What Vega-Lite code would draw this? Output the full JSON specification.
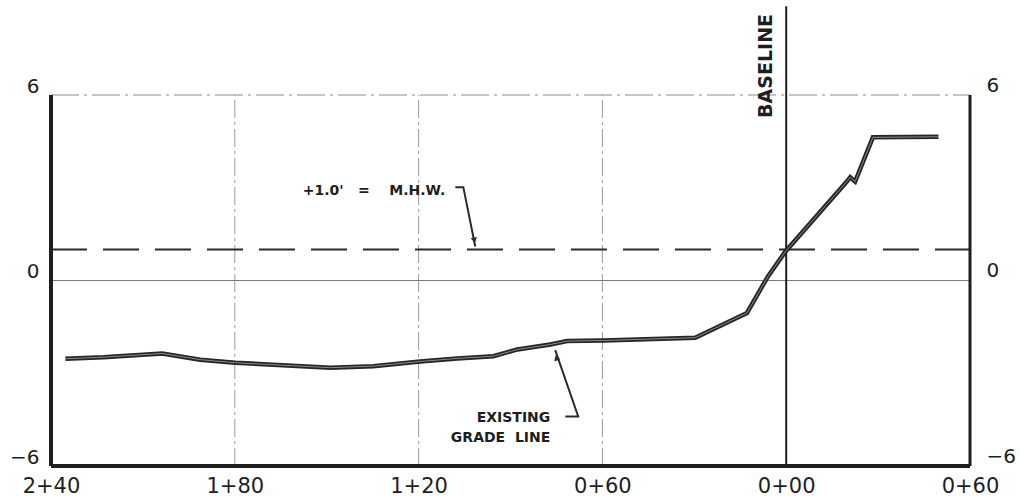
{
  "$schema": "https://vega.github.io/schema/vega-lite/v6.json",
  "width": 919,
  "height": 371,
  "autosize": {"type": "none"},
  "padding": {"left": 51, "top": 95, "right": 50, "bottom": 36},
  "background": "white",
  "config": {
    "view": {"stroke": null},
    "axis": {
      "domain": false, "ticks": false, "grid": false,
      "labelFont": "DejaVu Sans", "labelFontSize": 20, "labelColor": "#1e1e1e",
      "labelFontWeight": "normal", "title": null
    }
  },
  "datasets": {
    "one": [{}],
    "grid": [{"x": -180}, {"x": -120}, {"x": -60}],
    "grade": [
      {"x": -235.3, "y": -2.53}, {"x": -222.9, "y": -2.48}, {"x": -203.7, "y": -2.36},
      {"x": -191.3, "y": -2.56}, {"x": -179.8, "y": -2.66}, {"x": -148.8, "y": -2.82},
      {"x": -134.8, "y": -2.77}, {"x": -119.5, "y": -2.62}, {"x": -107.4, "y": -2.52},
      {"x": -95.6, "y": -2.45}, {"x": -87.8, "y": -2.23}, {"x": -77.0, "y": -2.07},
      {"x": -71.5, "y": -1.96}, {"x": -59.7, "y": -1.94}, {"x": -29.7, "y": -1.85},
      {"x": -12.8, "y": -1.05}, {"x": -5.9, "y": 0.14}, {"x": -0.3, "y": 0.93},
      {"x": 19.8, "y": 3.2}, {"x": 20.9, "y": 3.34}, {"x": 22.5, "y": 3.2},
      {"x": 28.3, "y": 4.63}, {"x": 49.7, "y": 4.65}
    ],
    "leaders": [
      {"g": "a", "o": 1, "x": -108.0, "y": 3.02},
      {"g": "a", "o": 2, "x": -105.4, "y": 3.02},
      {"g": "a", "o": 3, "x": -101.5, "y": 1.1},
      {"g": "b", "o": 1, "x": -72.1, "y": -4.4},
      {"g": "b", "o": 2, "x": -67.9, "y": -4.4},
      {"g": "b", "o": 3, "x": -75.4, "y": -2.25}
    ],
    "notes": [
      {"t": "+1.0'\u00a0\u00a0\u00a0=\u00a0\u00a0\u00a0\u00a0M.H.W.", "x": -111.3, "y": 2.88},
      {"t": "EXISTING", "x": -77.0, "y": -4.44},
      {"t": "GRADE\u00a0\u00a0LINE", "x": -77.0, "y": -5.11}
    ]
  },
  "layer": [
    {
      "data": {"name": "grid"},
      "mark": {"type": "rule", "stroke": "#9a9a9a", "strokeWidth": 1, "strokeDash": [18, 4, 3, 4]},
      "encoding": {
        "x": {"field": "x", "type": "quantitative",
              "scale": {"domain": [-240, 60], "nice": false, "zero": false},
              "axis": {"orient": "bottom", "values": [-240, -180, -120, -60, 0, 60], "labelPadding": 9, "labelFlush": false, "labelFontSize": 21,
                       "labelExpr": "floor(abs(datum.value)/100) + '+' + (abs(datum.value)%100 < 10 ? '0' : '') + (abs(datum.value)%100)"}},
        "y": {"datum": -6, "type": "quantitative",
              "scale": {"domain": [-6, 6], "nice": false, "zero": false},
              "axis": {"orient": "left", "values": [-6, 0, 6], "labelPadding": 12, "labelBaseline": "alphabetic", "labelOffset": -3,
                       "labelExpr": "datum.value < 0 ? '\u2212' + abs(datum.value) : '' + datum.value"}},
        "y2": {"datum": 6}
      }
    },
    {
      "data": {"name": "one"},
      "mark": {"type": "rule", "stroke": "#8c8c8c", "strokeWidth": 1, "strokeDash": [28, 5, 3, 5]},
      "encoding": {
        "x": {"datum": -240, "type": "quantitative", "scale": {"domain": [-240, 60], "nice": false, "zero": false}},
        "x2": {"datum": 60},
        "y": {"datum": 6, "type": "quantitative", "scale": {"domain": [-6, 6], "nice": false, "zero": false}, "axis": null}
      }
    },
    {
      "data": {"name": "one"},
      "mark": {"type": "rule", "stroke": "#7a7a7a", "strokeWidth": 1},
      "encoding": {
        "x": {"datum": -240, "type": "quantitative", "scale": {"domain": [-240, 60], "nice": false, "zero": false}},
        "x2": {"datum": 60},
        "y": {"datum": 0, "type": "quantitative", "scale": {"domain": [-6, 6], "nice": false, "zero": false}, "axis": null}
      }
    },
    {
      "data": {"name": "one"},
      "mark": {"type": "rule", "stroke": "#2a2a2a", "strokeWidth": 2, "strokeDash": [36, 16]},
      "encoding": {
        "x": {"datum": -240, "type": "quantitative", "scale": {"domain": [-240, 60], "nice": false, "zero": false}},
        "x2": {"datum": 60},
        "y": {"datum": 1, "type": "quantitative", "scale": {"domain": [-6, 6], "nice": false, "zero": false}, "axis": null}
      }
    },
    {
      "data": {"name": "one"},
      "mark": {"type": "rule", "stroke": "#1e1e1e", "strokeWidth": 2},
      "encoding": {
        "x": {"datum": 0, "type": "quantitative", "scale": {"domain": [-240, 60], "nice": false, "zero": false}},
        "y": {"datum": -6, "type": "quantitative", "scale": {"domain": [-6, 6], "nice": false, "zero": false}, "axis": null},
        "y2": {"datum": 8.87}
      }
    },
    {
      "data": {"name": "one"},
      "mark": {"type": "rule", "stroke": "#1e1e1e", "strokeWidth": 4},
      "encoding": {
        "x": {"datum": -240, "type": "quantitative", "scale": {"domain": [-240, 60], "nice": false, "zero": false}},
        "y": {"datum": -6, "type": "quantitative", "scale": {"domain": [-6, 6], "nice": false, "zero": false}, "axis": null},
        "y2": {"datum": 6}
      }
    },
    {
      "data": {"name": "one"},
      "mark": {"type": "rule", "stroke": "#1e1e1e", "strokeWidth": 4},
      "encoding": {
        "x": {"datum": -240, "type": "quantitative", "scale": {"domain": [-240, 60], "nice": false, "zero": false}},
        "x2": {"datum": 60},
        "y": {"datum": -6, "type": "quantitative", "scale": {"domain": [-6, 6], "nice": false, "zero": false}, "axis": null}
      }
    },
    {
      "data": {"name": "one"},
      "mark": {"type": "rule", "stroke": "#1e1e1e", "strokeWidth": 3},
      "encoding": {
        "x": {"datum": 60, "type": "quantitative", "scale": {"domain": [-240, 60], "nice": false, "zero": false}},
        "y": {"datum": -6, "type": "quantitative", "scale": {"domain": [-6, 6], "nice": false, "zero": false},
              "axis": {"orient": "right", "values": [-6, 0, 6], "labelPadding": 16, "labelBaseline": "alphabetic", "labelOffset": -4,
                       "labelExpr": "datum.value < 0 ? '\u2212' + abs(datum.value) : '' + datum.value"}},
        "y2": {"datum": 6}
      }
    },
    {
      "data": {"name": "grade"},
      "mark": {"type": "line", "stroke": "#262626", "strokeWidth": 4.5, "strokeJoin": "miter", "strokeCap": "butt"},
      "encoding": {
        "x": {"field": "x", "type": "quantitative", "scale": {"domain": [-240, 60], "nice": false, "zero": false}},
        "y": {"field": "y", "type": "quantitative", "scale": {"domain": [-6, 6], "nice": false, "zero": false}, "axis": null}
      }
    },
    {
      "data": {"name": "grade"},
      "mark": {"type": "line", "stroke": "#8a8a8a", "strokeWidth": 1, "strokeJoin": "miter", "strokeCap": "butt"},
      "encoding": {
        "x": {"field": "x", "type": "quantitative", "scale": {"domain": [-240, 60], "nice": false, "zero": false}},
        "y": {"field": "y", "type": "quantitative", "scale": {"domain": [-6, 6], "nice": false, "zero": false}, "axis": null}
      }
    },
    {
      "data": {"name": "leaders"},
      "mark": {"type": "line", "stroke": "#2a2a2a", "strokeWidth": 2},
      "encoding": {
        "x": {"field": "x", "type": "quantitative", "scale": {"domain": [-240, 60], "nice": false, "zero": false}},
        "y": {"field": "y", "type": "quantitative", "scale": {"domain": [-6, 6], "nice": false, "zero": false}, "axis": null},
        "detail": {"field": "g"},
        "order": {"field": "o", "type": "quantitative"}
      }
    },
    {
      "data": {"values": [{"x": -101.8, "y": 1.3}]},
      "mark": {"type": "point", "shape": "triangle-down", "filled": true, "color": "#2a2a2a", "size": 40, "angle": 349, "opacity": 1},
      "encoding": {
        "x": {"field": "x", "type": "quantitative", "scale": {"domain": [-240, 60], "nice": false, "zero": false}},
        "y": {"field": "y", "type": "quantitative", "scale": {"domain": [-6, 6], "nice": false, "zero": false}, "axis": null}
      }
    },
    {
      "data": {"values": [{"x": -75.0, "y": -2.5}]},
      "mark": {"type": "point", "shape": "triangle-up", "filled": true, "color": "#2a2a2a", "size": 40, "angle": 341, "opacity": 1},
      "encoding": {
        "x": {"field": "x", "type": "quantitative", "scale": {"domain": [-240, 60], "nice": false, "zero": false}},
        "y": {"field": "y", "type": "quantitative", "scale": {"domain": [-6, 6], "nice": false, "zero": false}, "axis": null}
      }
    },
    {
      "data": {"name": "notes"},
      "mark": {"type": "text", "align": "right", "baseline": "middle", "font": "DejaVu Sans", "fontSize": 14, "fontWeight": "bold", "color": "#1e1e1e"},
      "encoding": {
        "x": {"field": "x", "type": "quantitative", "scale": {"domain": [-240, 60], "nice": false, "zero": false}},
        "y": {"field": "y", "type": "quantitative", "scale": {"domain": [-6, 6], "nice": false, "zero": false}, "axis": null},
        "text": {"field": "t"}
      }
    },
    {
      "data": {"values": [{"t": "BASELINE", "x": -6.5, "y": 6.94}]},
      "mark": {"type": "text", "align": "center", "baseline": "middle", "angle": 270, "font": "DejaVu Sans", "fontSize": 19, "fontWeight": "bold", "color": "#1e1e1e"},
      "encoding": {
        "x": {"field": "x", "type": "quantitative", "scale": {"domain": [-240, 60], "nice": false, "zero": false}},
        "y": {"field": "y", "type": "quantitative", "scale": {"domain": [-6, 6], "nice": false, "zero": false}, "axis": null},
        "text": {"field": "t"}
      }
    }
  ],
  "resolve": {"axis": {"y": "independent"}}
}
